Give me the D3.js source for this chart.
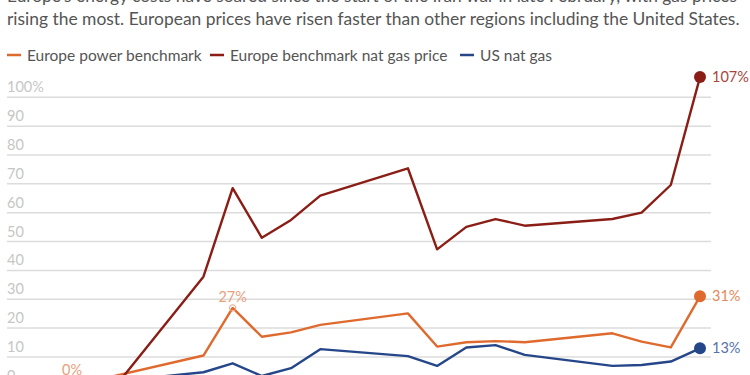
<!DOCTYPE html>
<html><head><meta charset="utf-8">
<script src="https://cdn.jsdelivr.net/npm/d3@7"></script>
<style>
html,body{margin:0;padding:0;background:#fff;overflow:hidden}
svg{display:block;font-family:Lato,"Open Sans",sans-serif}
</style></head><body>
<svg id="c" width="750" height="375"></svg>
<script>
// ---- data ----
const dates = ["2026-02-25T12:00","2026-02-27T00:00","2026-03-02T00:00","2026-03-03T00:00","2026-03-04T00:00","2026-03-05T00:00","2026-03-06T00:00","2026-03-09T00:00","2026-03-10T00:00","2026-03-11T00:00","2026-03-12T00:00","2026-03-13T00:00","2026-03-16T00:00","2026-03-17T00:00","2026-03-18T00:00","2026-03-19T00:00"];
const powerEU = [0, 3.5, 10.5, 27, 17.0, 18.5, 21.1, 25.1, 13.6, 15.1, 15.5, 15.1, 18.2, 15.3, 13.3, 31];
const gasEU   = [0, 0, 37.8, 68.5, 51.3, 57.5, 65.9, 75.4, 47.3, 55.1, 57.8, 55.5, 57.8, 60.0, 69.6, 107];
const gasUS   = [0, 1.6, 4.7, 7.8, 3.4, 6.1, 12.7, 10.3, 6.9, 13.3, 14.1, 10.7, 6.9, 7.2, 8.4, 13];
const yTicks  = [0,10,20,30,40,50,60,70,80,90,100];
const seriesNames = ["Europe power benchmark","Europe benchmark nat gas price","US nat gas"];
const colors = ["#df6a2e","#8a1e16","#25478a"];
const labelColors = ["#e7875a","#a9453d","#5572aa"];
const subtitle = ["Europe's energy costs have soared since the start of the Iran war in late February, with gas prices",
                  "rising the most. European prices have risen faster than other regions including the United States."];

const svg = d3.select("#c");
const parse = d3.isoParse;
const X = dates.map(parse);
const x = d3.scaleTime().domain([X[0], X[X.length-1]]).range([72, 700]);
const y = d3.scaleLinear().domain([0,100]).range([385.8, 97.3]);

// subtitle
subtitle.forEach((t,i)=>{
  const el = svg.append("text").attr("x",7).attr("y",2+i*23.3)
    .attr("fill","#555").style("font-size","16px").text(t);
  const w = el.node().getComputedTextLength();
  const target = i===1 ? 733 : 730;
  el.style("font-size", (16*target/w).toFixed(2)+"px");
});

// legend
const legX = [7,210,460];
seriesNames.forEach((n,i)=>{
  svg.append("line").attr("x1",legX[i]).attr("x2",legX[i]+14).attr("y1",55).attr("y2",55)
    .attr("stroke",colors[i]).attr("stroke-width",2.5);
  svg.append("text").attr("x",legX[i]+20).attr("y",60.5).attr("fill","#555")
    .style("font-size","15.5px").text(n);
});

// grid + tick labels
const g = svg.append("g");
g.selectAll("line.grid").data(yTicks).join("line").attr("class","grid")
  .attr("x1",7).attr("x2",711).attr("y1",d=>y(d)).attr("y2",d=>y(d))
  .attr("stroke","#dcdcdc").attr("stroke-width",1.5);
g.selectAll("text.tick").data(yTicks).join("text").attr("class","tick")
  .attr("x",7).attr("y",d=>y(d)-5).attr("fill","#c6c6c6").style("font-size","14.5px")
  .text(d=>d===100?"100%":d);

// lines
const all = [powerEU, gasEU, gasUS];
const line = d3.line().x((d,i)=>x(X[i])).y(d=>y(d));
all.forEach((s,i)=>{
  svg.append("path").datum(s).attr("d",line).attr("fill","none")
    .attr("stroke",colors[i]).attr("stroke-width",2.4).attr("stroke-linejoin","round");
});

// end dots + labels
const last = X.length-1;
all.forEach((s,i)=>{
  svg.append("circle").attr("cx",x(X[last])).attr("cy",y(s[last])).attr("r",6).attr("fill",colors[i]);
  svg.append("text").attr("x",x(X[last])+12).attr("y",y(s[last])+5).attr("fill",labelColors[i])
    .style("font-size","14.5px").text(Math.round(s[last])+"%");
});

// start label
svg.append("text").attr("x",x(X[0])).attr("y",375).attr("text-anchor","middle")
  .attr("fill","#eaa07c").style("font-size","14.5px").text("0%");
// peak annotation on power benchmark
const pk = 3;
svg.append("circle").attr("cx",x(X[pk])).attr("cy",y(powerEU[pk])).attr("r",3.2)
  .attr("fill","none").attr("stroke","#eaa07c").attr("stroke-width",1);
svg.append("text").attr("x",x(X[pk])).attr("y",y(powerEU[pk])-6).attr("text-anchor","middle")
  .attr("fill","#eaa07c").style("font-size","14.5px").text(Math.round(powerEU[pk])+"%");
</script>
</body></html>
